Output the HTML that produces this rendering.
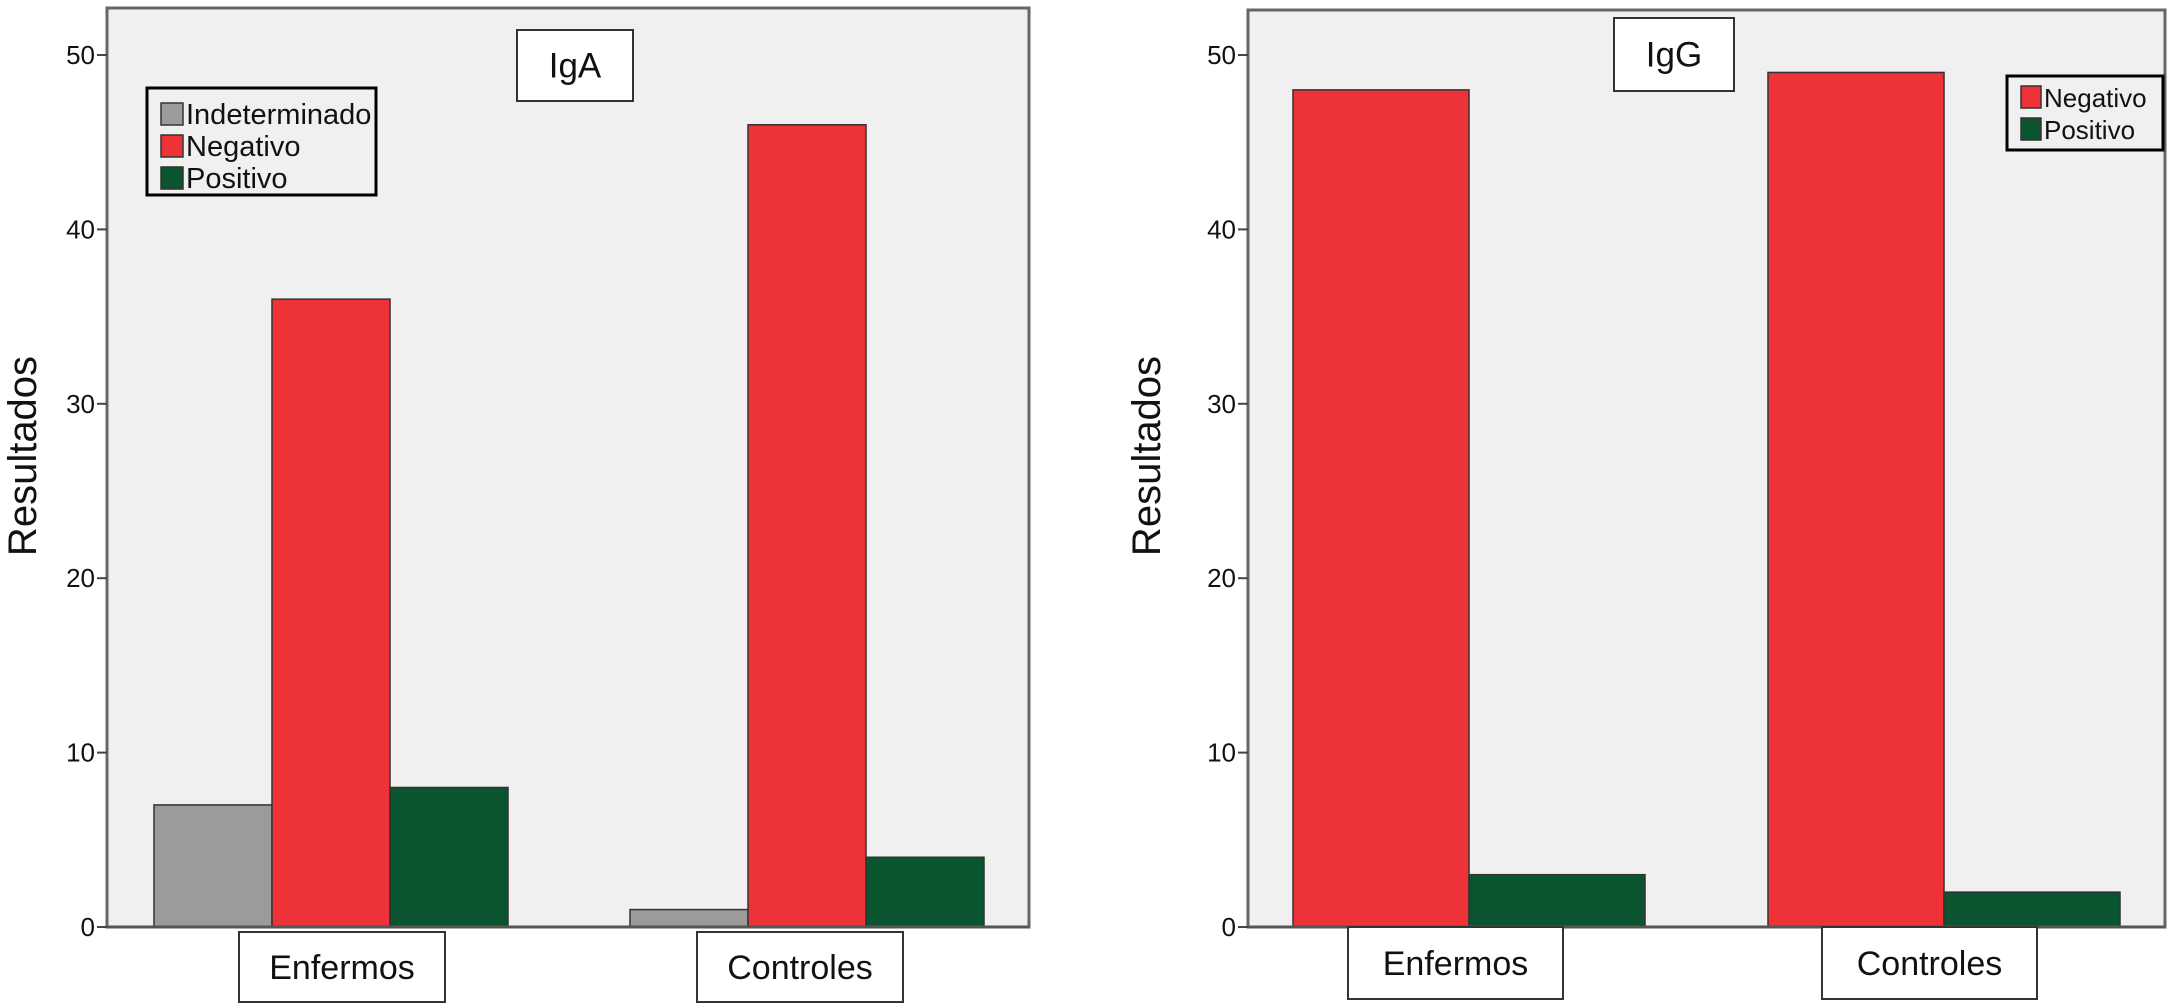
<!DOCTYPE html>
<html><head><meta charset="utf-8"><style>
html,body{margin:0;padding:0;background:#fff;}
svg{display:block;font-family:"Liberation Sans",Arial,sans-serif;}
</style></head><body>
<svg id="c" width="2171" height="1008" viewBox="0 0 2171 1008" xmlns="http://www.w3.org/2000/svg"></svg>
<script>
const categories = ["Enfermos", "Controles"];
const igaSeries = ["Indeterminado", "Negativo", "Positivo"];
const igaValues = [[7, 36, 8], [1, 46, 4]];
const iggSeries = ["Negativo", "Positivo"];
const iggValues = [[48, 3], [49, 2]];
const yTicks = [0, 10, 20, 30, 40, 50];
const colors = {Indeterminado:"#9b9b9b", Negativo:"#ee3338", Positivo:"#0b5430"};

const NS = "http://www.w3.org/2000/svg";
const svg = document.getElementById('c');
function el(tag, attrs, parent) {
  const e = document.createElementNS(NS, tag);
  for (const k in attrs) e.setAttribute(k, attrs[k]);
  (parent || svg).appendChild(e);
  return e;
}

function panel(cfg) {
  const g = el('g', {});
  
  
  const y = v => cfg.bottom - (v / 50) * (cfg.bottom - cfg.y50);
  const bg = el('rect', {x:cfg.left, y:cfg.top, width:cfg.right-cfg.left, height:cfg.bottom-cfg.top, fill:'#f0f0f0', stroke:'#666', 'stroke-width':3}, g);
  
  
  yTicks.forEach(t => {
    const ln = el('line', {x1:cfg.left-10, x2:cfg.left, y1:y(t), y2:y(t), stroke:'#444', 'stroke-width':2}, g);
    
    
    const tx = el('text', {x:cfg.left-12, y:y(t)+9, 'text-anchor':'end', 'font-size':26, fill:'#111'}, g);
    tx.textContent = t;
    
    
  });
  const yt = el('text', {transform:`translate(${cfg.ytitleX},456) rotate(-90)`, 'text-anchor':'middle', 'font-size':40, fill:'#111'}, g);
  yt.textContent = 'Resultados';
  
  
  categories.forEach((c, ci) => {
    cfg.series.forEach((s, si) => {
      const v = cfg.values[ci][si];
      const x = cfg.groupStart[ci] + si * cfg.barW;
      const r = el('rect', {x:x, y:y(v), width:cfg.barW, height:y(0)-y(v), fill:colors[s], stroke:'#333', 'stroke-width':1.5}, g);
      
      
    });
  });
  el('line', {x1:cfg.left, x2:cfg.right, y1:cfg.bottom, y2:cfg.bottom, stroke:'#555', 'stroke-width':3}, g);
  categories.forEach((c, ci) => {
    const b = cfg.catBox[ci];
    const r = el('rect', {x:b[0], y:b[1], width:b[2], height:b[3], fill:'#fff', stroke:'#333', 'stroke-width':2}, g);
    
    
    const t = el('text', {x:b[0]+b[2]/2, y:b[1]+b[3]/2+12, 'text-anchor':'middle', 'font-size':34, fill:'#111'}, g);
    t.textContent = c;
    
    
  });
  const tb = cfg.titleBox;
  const tr = el('rect', {x:tb[0], y:tb[1], width:tb[2], height:tb[3], fill:'#fff', stroke:'#333', 'stroke-width':2}, g);
  
  
  const tt = el('text', {x:tb[0]+tb[2]/2, y:tb[1]+tb[3]/2+12, 'text-anchor':'middle', 'font-size':35, fill:'#111'}, g);
  tt.textContent = cfg.title;
  
  
  const lb = cfg.legBox;
  const lr = el('rect', {x:lb[0], y:lb[1], width:lb[2], height:lb[3], fill:'#f0f0f0', stroke:'#000', 'stroke-width':3}, g);
  
  
  cfg.series.forEach((s, si) => {
    const cy = lb[1] + cfg.legFirst + si * cfg.legStep;
    const sw = el('rect', {x:lb[0]+14, y:cy-11, width:cfg.sw, height:22, fill:colors[s], stroke:'#333', 'stroke-width':1.5}, g);
    
    
    const t = el('text', {x:lb[0]+17+cfg.sw, y:cy+10, 'font-size':cfg.legFont, fill:'#111'}, g);
    t.textContent = s;
    
    
  });
}

panel({name:'iga-panel', left:107, right:1029, top:8, bottom:927, y50:55, ytitleX:36,
  series:igaSeries, values:igaValues, groupStart:[154, 630], barW:118,
  catBox:[[239,932,206,70],[697,932,206,70]], titleBox:[517,30,116,71], title:'IgA',
  legBox:[147,88,229,107], legFirst:26, legStep:32, sw:22, legFont:29});
panel({name:'igg-panel', left:1248, right:2165, top:10, bottom:927, y50:55, ytitleX:1160,
  series:iggSeries, values:iggValues, groupStart:[1293, 1768], barW:176,
  catBox:[[1348,927,215,72],[1822,927,215,72]], titleBox:[1614,18,120,73], title:'IgG',
  legBox:[2007,76,156,74], legFirst:21, legStep:32, sw:20, legFont:26});
</script>
</body></html>
